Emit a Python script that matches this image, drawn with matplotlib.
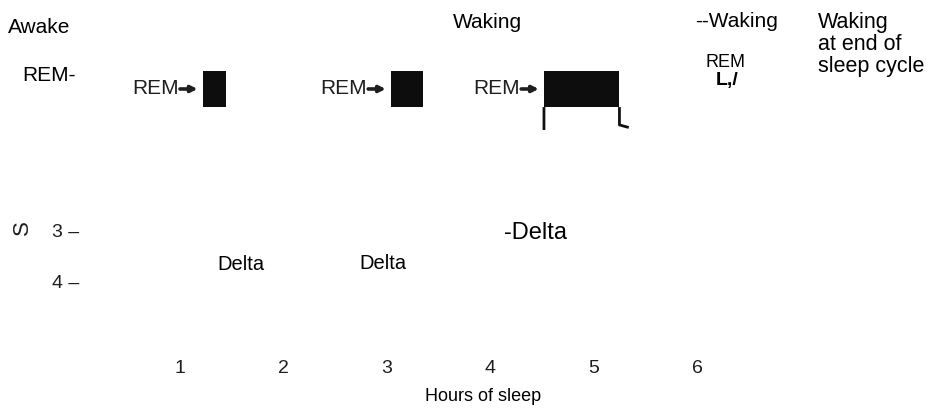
import matplotlib.pyplot as plt
import numpy as np

# REM periods (hours of sleep) seen on the hypnogram
rem_start = [1.22, 3.04, 4.52]
rem_end = [1.44, 3.35, 5.25]
rem_top = -0.16   # stage units (Awake=-1, REM=0, 1..4)
rem_bottom = 0.55

# fragment of the hypnogram trace after the third REM period
trace_hours = [4.52, 4.52, np.nan, 5.25, 5.25, 5.34]
trace_stage = [1.0, 0.55, np.nan, 0.55, 0.90, 0.95]

hour_ticks = [1, 2, 3, 4, 5, 6]
stage_ticks = [3, 4]

# Delta annotations: (hour, stage, text)
delta_hours = [1.59, 2.96, 4.44]
delta_stage = [3.63, 3.61, 3.02]
delta_text = ['Delta', 'Delta', '-Delta']
delta_size = [14.5, 14.5, 17]

sans = ['Liberation Sans', 'DejaVu Sans']
scan = '#1e1e1e'

fig = plt.figure(figsize=(9.41, 4.11), dpi=100)
ax = fig.add_axes([0, 0, 1, 1])
ax.set_xlim(-0.741, 8.360)
ax.set_ylim(6.51, -1.55)
ax.axis('off')

# REM blocks with their arrow labels
for s, e in zip(rem_start, rem_end):
    mid = (rem_top + rem_bottom) / 2
    ax.bar(s, rem_bottom - rem_top, width=e - s, bottom=rem_top,
           align='edge', color='#0d0d0d', edgecolor='none')
    ax.annotate('', xy=(s - 0.05, mid), xytext=(s - 0.22, mid),
                arrowprops=dict(arrowstyle='-|>', lw=2.6, color=scan,
                                mutation_scale=9, shrinkA=0, shrinkB=0))
    ax.text(s - 0.235, mid, 'REM', ha='right', va='center',
            fontsize=15, color=scan, family=sans)

ax.plot(trace_hours, trace_stage, color='#111111', linewidth=2, solid_capstyle='butt')

# stage axis fragment
for st in stage_ticks:
    ax.text(0.03, st, str(st) + ' \u2013', ha='right', va='center', fontsize=14,
            color=scan, family=sans)
ax.text(-0.52, 2.92, 'S', rotation=90, ha='center', va='center', fontsize=16,
        color=scan, family=sans)

# hours axis
for h in hour_ticks:
    ax.text(h, 5.67, str(h), ha='center', va='center', fontsize=14, color=scan, family=sans)
ax.text(3.93, 6.22, 'Hours of sleep', ha='center', va='center', fontsize=13,
        color='black', family=sans)

# stage / event labels
ax.text(-0.663, -1.02, 'Awake', ha='left', va='center', fontsize=15, family=sans)
ax.text(-0.528, -0.06, 'REM-', ha='left', va='center', fontsize=15, family=sans)
ax.text(3.97, -1.10, 'Waking', ha='center', va='center', fontsize=15, family=sans)
ax.text(5.98, -1.12, '--Waking', ha='left', va='center', fontsize=15, family=sans)
ax.text(7.17, -1.32, 'Waking\nat end of\nsleep cycle', ha='left', va='top',
        fontsize=15.5, linespacing=1.07, family=sans)
ax.text(6.28, -0.33, 'REM', ha='center', va='center', fontsize=13, family=sans)
ax.text(6.29, 0.02, 'L,/', ha='center', va='center', fontsize=14, fontweight='bold',
        family=sans)

for h, st, t, fs in zip(delta_hours, delta_stage, delta_text, delta_size):
    ax.text(h, st, t, ha='center', va='center', fontsize=fs, family=sans)

fig.savefig('out.png', dpi=100)
